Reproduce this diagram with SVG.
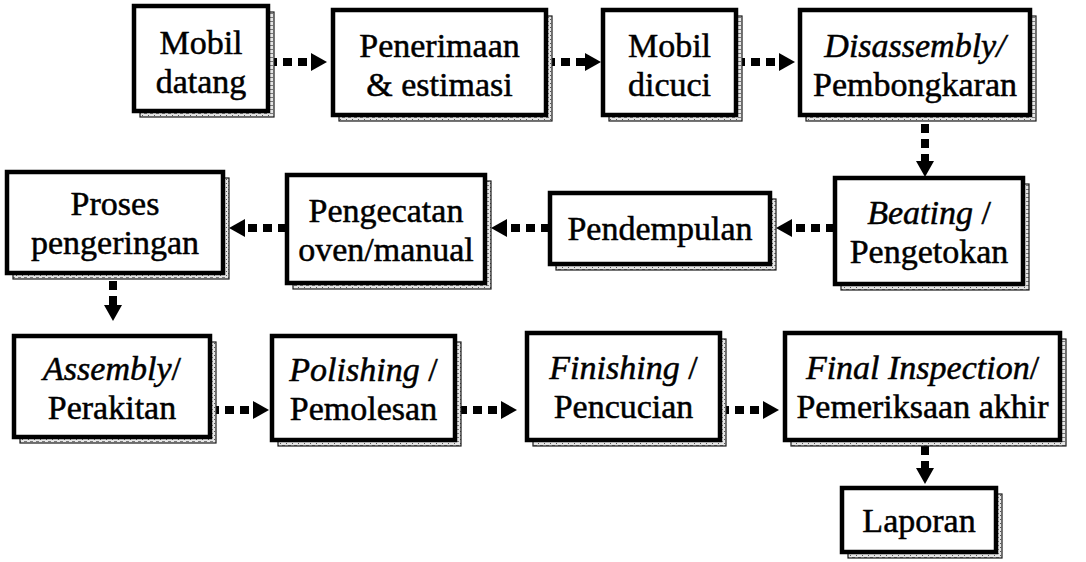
<svg xmlns="http://www.w3.org/2000/svg" width="1086" height="562" viewBox="0 0 1086 562">
  <style>
    .box { fill: #ffffff; stroke: #000000; stroke-width: 4.5; }
    .shadow { fill: url(#grain); stroke: #1a1a1a; stroke-width: 1.2; }
    .lbl { font-family: "Liberation Serif", "Times New Roman", serif; font-size: 34px; fill: #000000; stroke: #000000; stroke-width: 0.5; text-anchor: middle; }
    .it { font-style: italic; }
    .flow { fill: none; stroke: #000000; stroke-width: 8; stroke-dasharray: 9 6; }
  </style>
  <defs>
    <!-- speckled fill for the offset shadow frames -->
    <pattern id="grain" width="6" height="4" patternUnits="userSpaceOnUse">
      <rect width="6" height="4" fill="#e6e6e6"/>
      <rect x="0" y="1" width="3" height="1" fill="#7a7a7a"/>
      <rect x="4" y="3" width="1" height="1" fill="#555555"/>
    </pattern>
    <marker id="head" markerUnits="userSpaceOnUse" markerWidth="17" markerHeight="20" refX="0" refY="10" orient="auto">
      <path d="M0,1 L16,10 L0,19 Z" fill="#000000"/>
    </marker>
  </defs>

  <!-- connectors -->
  <g id="connectors">
    <!-- row 1, left to right -->
    <path class="flow" d="M268,62 H311" marker-end="url(#head)"/>
    <path class="flow" d="M546,62 H585" marker-end="url(#head)"/>
    <path class="flow" d="M736,62 H779" marker-end="url(#head)"/>
    <!-- down to row 2 -->
    <path class="flow" d="M925,124 V161" marker-end="url(#head)"/>
    <!-- row 2, right to left -->
    <path class="flow" d="M835,228 H792" marker-end="url(#head)"/>
    <path class="flow" d="M550,228 H507" marker-end="url(#head)"/>
    <path class="flow" d="M287,228 H245" marker-end="url(#head)"/>
    <!-- down to row 3 -->
    <path class="flow" d="M113,281 V305" marker-end="url(#head)"/>
    <!-- row 3, left to right -->
    <path class="flow" d="M210,410 H253" marker-end="url(#head)"/>
    <path class="flow" d="M458,410 H501" marker-end="url(#head)"/>
    <path class="flow" d="M720,410 H763" marker-end="url(#head)"/>
    <!-- down to the report -->
    <path class="flow" d="M925,446 V468" marker-end="url(#head)"/>
  </g>

  <g id="mobil-datang">
    <rect class="shadow" x="140" y="12" width="134" height="105"/>
    <rect class="box" x="134" y="6" width="134" height="105"/>
    <text class="lbl" x="201" y="54">Mobil</text>
    <text class="lbl" x="201" y="93">datang</text>
  </g>

  <g id="penerimaan">
    <rect class="shadow" x="339" y="16" width="213" height="105"/>
    <rect class="box" x="333" y="10" width="213" height="105"/>
    <text class="lbl" x="439.5" y="57">Penerimaan</text>
    <text class="lbl" x="439.5" y="96">&amp; estimasi</text>
  </g>

  <g id="mobil-dicuci">
    <rect class="shadow" x="609" y="16" width="133" height="105"/>
    <rect class="box" x="603" y="10" width="133" height="105"/>
    <text class="lbl" x="669.5" y="57">Mobil</text>
    <text class="lbl" x="669.5" y="96">dicuci</text>
  </g>

  <g id="disassembly">
    <rect class="shadow" x="806" y="16" width="230" height="105"/>
    <rect class="box" x="800" y="10" width="230" height="105"/>
    <text class="lbl" x="915" y="57"><tspan class="it">Disassembly/</tspan></text>
    <text class="lbl" x="915" y="96">Pembongkaran</text>
  </g>

  <g id="beating">
    <rect class="shadow" x="841" y="184" width="188" height="106"/>
    <rect class="box" x="835" y="178" width="188" height="106"/>
    <text class="lbl" x="929" y="224"><tspan class="it">Beating</tspan> /</text>
    <text class="lbl" x="929" y="263">Pengetokan</text>
  </g>

  <g id="pendempulan">
    <rect class="shadow" x="556" y="199" width="220" height="71"/>
    <rect class="box" x="550" y="193" width="220" height="71"/>
    <text class="lbl" x="660" y="240">Pendempulan</text>
  </g>

  <g id="pengecatan">
    <rect class="shadow" x="293" y="181" width="198" height="108"/>
    <rect class="box" x="287" y="175" width="198" height="108"/>
    <text class="lbl" x="386" y="222">Pengecatan</text>
    <text class="lbl" x="386" y="261">oven/manual</text>
  </g>

  <g id="pengeringan">
    <rect class="shadow" x="13" y="178" width="216" height="101"/>
    <rect class="box" x="7" y="172" width="216" height="101"/>
    <text class="lbl" x="115" y="215">Proses</text>
    <text class="lbl" x="115" y="254">pengeringan</text>
  </g>

  <g id="assembly">
    <rect class="shadow" x="20" y="342" width="196" height="101"/>
    <rect class="box" x="14" y="336" width="196" height="101"/>
    <text class="lbl" x="112" y="380"><tspan class="it">Assembly</tspan>/</text>
    <text class="lbl" x="112" y="419">Perakitan</text>
  </g>

  <g id="polishing">
    <rect class="shadow" x="278" y="342" width="183" height="104"/>
    <rect class="box" x="272" y="336" width="183" height="104"/>
    <text class="lbl" x="363.5" y="381"><tspan class="it">Polishing</tspan> /</text>
    <text class="lbl" x="363.5" y="420">Pemolesan</text>
  </g>

  <g id="finishing">
    <rect class="shadow" x="533" y="339" width="193" height="107"/>
    <rect class="box" x="527" y="333" width="193" height="107"/>
    <text class="lbl" x="623.5" y="379"><tspan class="it">Finishing</tspan> /</text>
    <text class="lbl" x="623.5" y="418">Pencucian</text>
  </g>

  <g id="final-inspection">
    <rect class="shadow" x="791" y="339" width="275" height="107"/>
    <rect class="box" x="785" y="333" width="275" height="107"/>
    <text class="lbl" x="922.5" y="379"><tspan class="it">Final Inspection</tspan>/</text>
    <text class="lbl" x="922.5" y="418">Pemeriksaan akhir</text>
  </g>

  <g id="laporan">
    <rect class="shadow" x="848" y="494" width="154" height="64"/>
    <rect class="box" x="842" y="488" width="154" height="64"/>
    <text class="lbl" x="919" y="532">Laporan</text>
  </g>
</svg>
